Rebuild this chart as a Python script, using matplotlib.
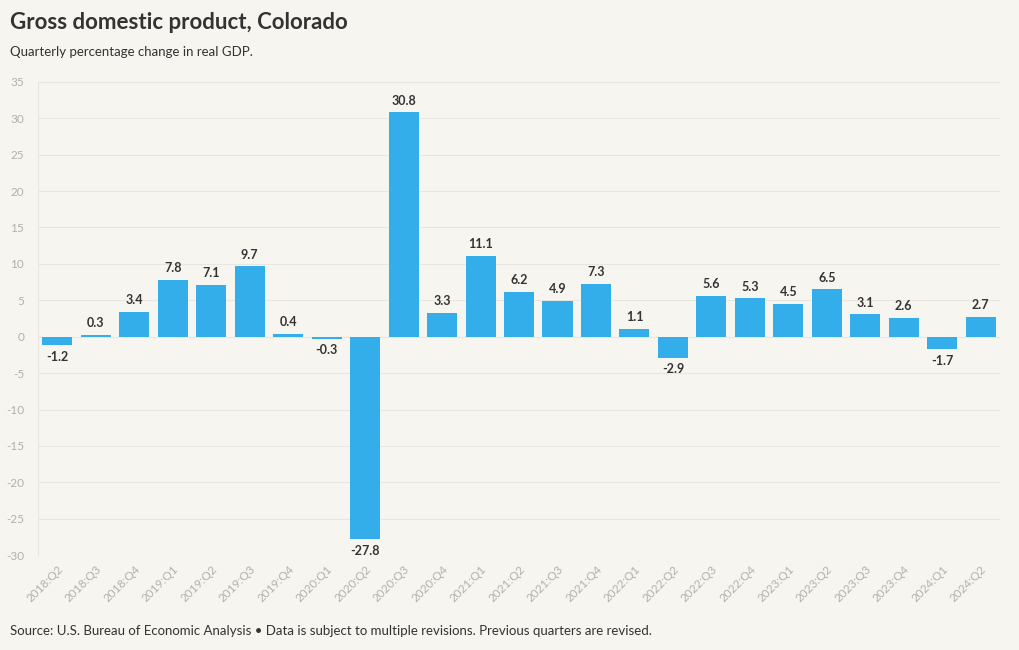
import matplotlib
matplotlib.use("Agg")
import matplotlib.pyplot as plt
import numpy as np

plt.rcParams['font.family'] = ['Lato', 'DejaVu Sans']

quarters = ['2018:Q2', '2018:Q3', '2018:Q4', '2019:Q1', '2019:Q2', '2019:Q3', '2019:Q4',
            '2020:Q1', '2020:Q2', '2020:Q3', '2020:Q4', '2021:Q1', '2021:Q2', '2021:Q3',
            '2021:Q4', '2022:Q1', '2022:Q2', '2022:Q3', '2022:Q4', '2023:Q1', '2023:Q2',
            '2023:Q3', '2023:Q4', '2024:Q1', '2024:Q2']
gdp_change = [-1.2, 0.3, 3.4, 7.8, 7.1, 9.7, 0.4, -0.3, -27.8, 30.8, 3.3, 11.1, 6.2, 4.9,
              7.3, 1.1, -2.9, 5.6, 5.3, 4.5, 6.5, 3.1, 2.6, -1.7, 2.7]
y_ticks = list(range(-30, 36, 5))

bg = '#f7f5f0'
fig = plt.figure(figsize=(10.2, 6.5), dpi=100, facecolor=bg)
ax = fig.add_axes([0.0373, 0.146, 0.9431, 0.728], facecolor=bg)

x = np.arange(len(quarters))
ax.bar(x, gdp_change, width=0.78, color='#34adeb', zorder=3)

for xi, v in zip(x, gdp_change):
    if v >= 0:
        ax.annotate(f'{v}', (xi, v), xytext=(0, 4), textcoords='offset points',
                    ha='center', va='bottom', fontsize=9, fontweight='bold', color='#333333')
    else:
        ax.annotate(f'{v}', (xi, v), xytext=(0, -4), textcoords='offset points',
                    ha='center', va='top', fontsize=9, fontweight='bold', color='#333333')

ax.set_xlim(-0.5, len(quarters) - 0.5)
ax.set_ylim(-30, 35)
ax.set_yticks(y_ticks)
ax.set_yticklabels([str(t) for t in y_ticks])
ax.set_xticks(x)
ax.set_xticklabels(quarters, rotation=45, ha='right', rotation_mode='anchor')
ax.tick_params(axis='both', length=0, colors='#b3b0aa', labelsize=8.5)
ax.tick_params(axis='y', pad=10)
ax.tick_params(axis='x', pad=6)
ax.grid(axis='y', color='#e9e6e0', linewidth=0.8, zorder=0)
for s in ['top', 'right', 'bottom']:
    ax.spines[s].set_visible(False)
ax.spines['left'].set_color('#e9e6e0')

fig.text(0.0098, 0.965, 'Gross domestic product, Colorado', fontsize=16, fontweight='bold',
         color='#333333', va='center')
fig.text(0.0098, 0.92, 'Quarterly percentage change in real GDP.', fontsize=9.5,
         color='#333333', va='center')
fig.text(0.0098, 0.029, 'Source: U.S. Bureau of Economic Analysis \u2022 Data is subject to multiple revisions. Previous quarters are revised.',
         fontsize=9.5, color='#333333', va='center')

fig.savefig('out.png', dpi=100, facecolor=bg)
